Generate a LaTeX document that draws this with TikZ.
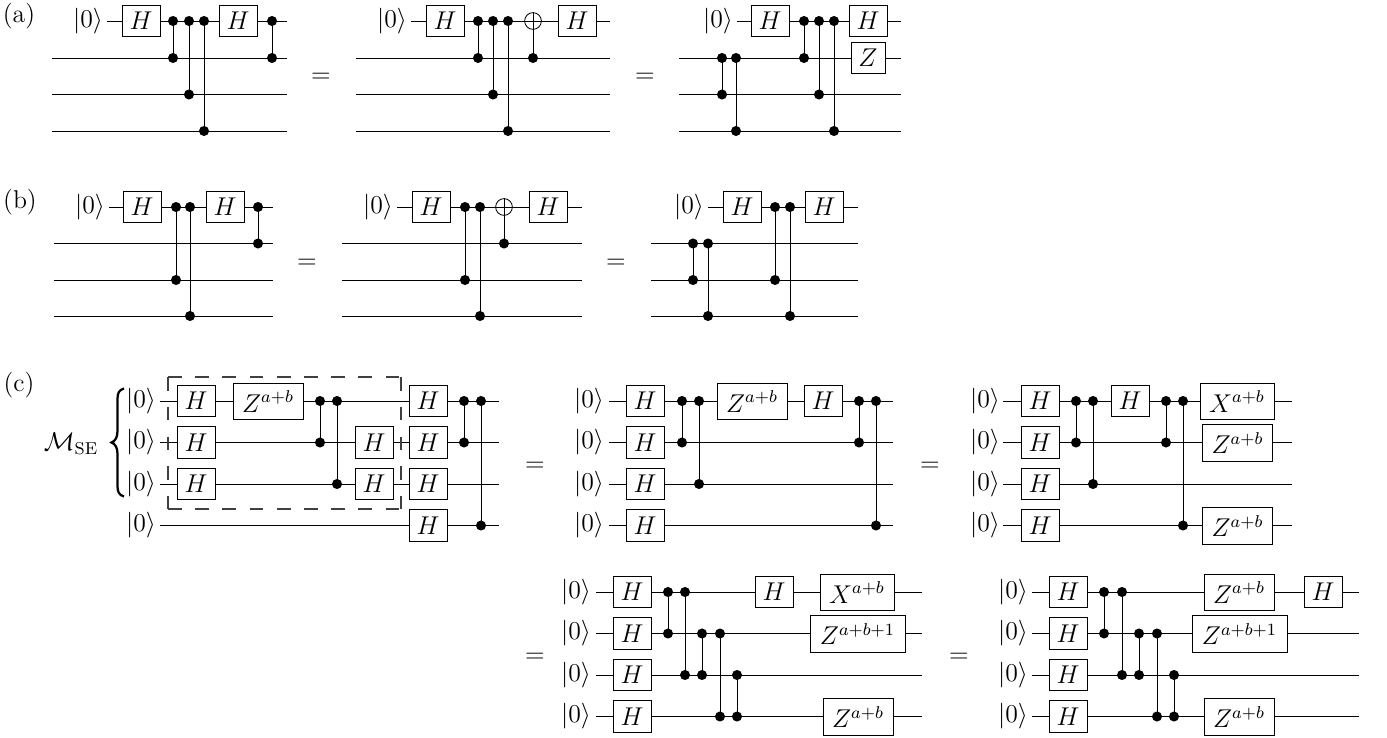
\documentclass[12pt,tikz,border=0pt]{standalone}
\usepackage{amsmath}
\tikzset{
  x=0.4667pt, y=-0.4667pt,
  qwire/.style={line width=0.4pt, black},
  gatebox/.style={draw, line width=0.4pt, fill=white, inner sep=0pt, minimum height=14.7pt, minimum width=17.7pt},
  hgate/.style={gatebox},
  zbox/.style={gatebox, minimum width=15.9pt},
  widebox/.style={gatebox, minimum height=16.9pt, minimum width=32.7pt},
  xwide/.style={gatebox, minimum height=16.9pt, minimum width=34.5pt},
  ztall/.style={gatebox, minimum height=16.9pt, minimum width=44.4pt},
  ketlabel/.style={inner sep=0pt},
  dotnode/.style={circle, fill=black, draw=none, inner sep=0pt, minimum size=4.7pt},
  xornode/.style={circle, draw, fill=white, line width=0.4pt, inner sep=0pt, minimum size=7.8pt},
  plainlabel/.style={inner sep=0pt},
  dashh/.style={line width=0.65pt, black!75, dash pattern=on 6.4pt off 6.3pt},
  dashv/.style={line width=0.65pt, black!75, dash pattern=on 6.4pt off 7.5pt},
}
\newcommand{\ket}{\ensuremath{|0\rangle}}
\newcommand{\qw}[4]{\coordinate (#1a) at (#3,#2); \coordinate (#1b) at (#4,#2); \draw[qwire] (#1a) -- (#1b);}
\newcommand{\cz}[4]{\node[dotnode] (#1a) at (#2,#3) {}; \node[dotnode] (#1b) at (#2,#4) {}; \draw[qwire] (#1a.center) -- (#1b.center);}
\newcommand{\gate}[5]{\node[#2] (#1) at (#3,#4) {$#5$};}
\newcommand{\kt}[3]{\node[ketlabel] (#1) at (#2,#3) {\ket};}
\begin{document}
\begin{tikzpicture}
\useasboundingbox (0,0) rectangle (1387,738);

% ---------- labels
\node[plainlabel] (la) at (19,16) {(a)};
\node[plainlabel] (lb) at (20,202) {(b)};
\node[plainlabel] (lc) at (19,385) {(c)};

% ---------- (a1)
\qw{aAw}{21}{107}{287}\qw{aAx}{58}{52}{287}\qw{aAy}{94.5}{52}{287}\qw{aAz}{131}{52}{287}
\kt{aAk}{88}{21}
\gate{aAh}{hgate}{141}{21}{H}
\cz{aAc}{173}{21}{58}\cz{aAd}{189}{21}{94.5}\cz{aAe}{204}{21}{131}
\gate{aAi}{hgate}{238}{21}{H}
\cz{aAf}{272}{21}{58}
\node[plainlabel] (eqa1) at (321,78) {$=$};

% ---------- (a2)
\qw{aBw}{21}{411}{610}\qw{aBx}{58}{356}{610}\qw{aBy}{94.5}{356}{610}\qw{aBz}{131}{356}{610}
\kt{aBk}{392}{21}
\gate{aBh}{hgate}{445}{21}{H}
\cz{aBc}{478}{21}{58}\cz{aBd}{493}{21}{94.5}\cz{aBe}{508}{21}{131}
\node[dotnode] (aBt) at (533,58) {};
\node[xornode] (aBo) at (533,21) {};
\draw[qwire] (aBo.west) -- (aBo.east); \draw[qwire] (aBo.north) -- (aBt.center);
\gate{aBi}{hgate}{577}{21}{H}
\node[plainlabel] (eqa2) at (645,78) {$=$};

% ---------- (a3)
\qw{aCw}{21}{737}{901}\qw{aCx}{58}{679}{901}\qw{aCy}{94.5}{679}{901}\qw{aCz}{131}{679}{901}
\kt{aCk}{718}{21}
\gate{aCh}{hgate}{770}{21}{H}
\cz{aCa}{722}{58}{94.5}\cz{aCb}{736}{58}{131}
\cz{aCc}{804}{21}{58}\cz{aCd}{819}{21}{94.5}\cz{aCe}{834}{21}{131}
\gate{aCi}{hgate}{868}{21}{H}
\gate{aCj}{zbox}{868}{58}{Z}

% ---------- (b1)
\qw{bAw}{207}{109}{273}\qw{bAx}{243.5}{54}{273}\qw{bAy}{280}{54}{273}\qw{bAz}{316}{54}{273}
\kt{bAk}{90}{207}
\gate{bAh}{hgate}{142}{207}{H}
\cz{bAc}{176}{207}{280}\cz{bAd}{190}{207}{316}
\gate{bAi}{hgate}{225}{207}{H}
\cz{bAf}{258}{207}{243.5}
\node[plainlabel] (eqb1) at (307,264) {$=$};

% ---------- (b2)
\qw{bBw}{207}{397}{582}\qw{bBx}{243.5}{342}{582}\qw{bBy}{280}{342}{582}\qw{bBz}{316}{342}{582}
\kt{bBk}{378}{207}
\gate{bBh}{hgate}{431}{207}{H}
\cz{bBc}{465}{207}{280}\cz{bBd}{480}{207}{316}
\node[dotnode] (bBt) at (504,243.5) {};
\node[xornode] (bBo) at (504,207) {};
\draw[qwire] (bBo.west) -- (bBo.east); \draw[qwire] (bBo.north) -- (bBt.center);
\gate{bBi}{hgate}{548}{207}{H}
\node[plainlabel] (eqb2) at (616,264) {$=$};

% ---------- (b3)
\qw{bCw}{207}{708}{858}\qw{bCx}{243.5}{651}{858}\qw{bCy}{280}{651}{858}\qw{bCz}{316}{651}{858}
\kt{bCk}{689}{207}
\gate{bCh}{hgate}{742}{207}{H}
\cz{bCa}{693}{243.5}{280}\cz{bCb}{708}{243.5}{316}
\cz{bCc}{775}{207}{280}\cz{bCd}{790}{207}{316}
\gate{bCi}{hgate}{824}{207}{H}

% ---------- (c1)
\qw{cAw}{401}{160}{499}\qw{cAx}{442.5}{160}{499}\qw{cAy}{484}{160}{499}\qw{cAz}{525.5}{160}{499}
\kt{cAk}{141}{401}\kt{cAl}{141}{442.5}\kt{cAm}{141}{484}\kt{cAn}{141}{525.5}
\coordinate (dtl) at (168,377); \coordinate (dtr) at (401,377);
\coordinate (dbl) at (168,509); \coordinate (dbr) at (401,509);
\draw[dashh] (dtl) -- (dtr);
\draw[dashh] (dbl) -- (dbr);
\draw[dashv] (dtl) -- (dbl);
\draw[dashv] (dtr) -- (dbr);
\gate{cAh}{hgate}{196}{401}{H}\gate{cAi}{hgate}{196}{442.5}{H}\gate{cAj}{hgate}{196}{484}{H}
\gate{cAZ}{widebox}{268}{401.5}{Z^{a+b}}
\cz{cAc}{320}{401}{442.5}\cz{cAd}{337}{401}{484}
\gate{cAo}{hgate}{374}{442.5}{H}\gate{cAp}{hgate}{374}{484}{H}
\gate{cAq}{hgate}{428}{401}{H}\gate{cAr}{hgate}{428}{442.5}{H}\gate{cAs}{hgate}{428}{484}{H}\gate{cAt}{hgate}{428}{525.5}{H}
\cz{cAe}{464}{401}{442.5}\cz{cAf}{481}{401}{525.5}
\node[plainlabel] (mse) at (71,444) {$\mathcal{M}_{\mathrm{SE}}$};
\draw[line width=1.05pt] (124,388.5) .. controls (119,390) and (117.5,393) .. (117.5,399)
  -- (117.5,431) .. controls (117.5,437) and (115.5,441) .. (111.5,442.5)
  .. controls (115.5,444) and (117.5,448) .. (117.5,454)
  -- (117.5,486) .. controls (117.5,492) and (119,495) .. (124,496.5);
\node[plainlabel] (eqc1) at (535,467) {$=$};

% ---------- (c2)
\qw{cBw}{401}{609}{893}\qw{cBx}{442.5}{609}{893}\qw{cBy}{484}{609}{893}\qw{cBz}{525.5}{609}{893}
\kt{cBk}{589}{401}\kt{cBl}{589}{442.5}\kt{cBm}{589}{484}\kt{cBn}{589}{525.5}
\gate{cBh}{hgate}{645}{401}{H}\gate{cBi}{hgate}{645}{442.5}{H}\gate{cBj}{hgate}{645}{484}{H}\gate{cBo}{hgate}{645}{525.5}{H}
\cz{cBc}{682}{401}{442.5}\cz{cBd}{699}{401}{484}
\gate{cBZ}{widebox}{752}{401.5}{Z^{a+b}}
\gate{cBp}{hgate}{823}{401}{H}
\cz{cBe}{859}{401}{442.5}\cz{cBf}{876}{401}{525.5}
\node[plainlabel] (eqc2) at (930,467) {$=$};

% ---------- (c3)
\qw{cCw}{401}{1003}{1292}\qw{cCx}{442.5}{1003}{1292}\qw{cCy}{484}{1003}{1292}\qw{cCz}{525.5}{1003}{1292}
\kt{cCk}{985}{401}\kt{cCl}{985}{442.5}\kt{cCm}{985}{484}\kt{cCn}{985}{525.5}
\gate{cCh}{hgate}{1040}{401}{H}\gate{cCi}{hgate}{1040}{442.5}{H}\gate{cCj}{hgate}{1040}{484}{H}\gate{cCo}{hgate}{1040}{525.5}{H}
\cz{cCc}{1076}{401}{442.5}\cz{cCd}{1093}{401}{484}
\gate{cCp}{hgate}{1130}{401}{H}
\cz{cCe}{1166}{401}{442.5}\cz{cCf}{1183}{401}{525.5}
\gate{cCX}{xwide}{1237}{401.5}{X^{a+b}}
\gate{cCZ}{widebox}{1237.5}{443}{Z^{a+b}}
\gate{cCY}{widebox}{1237.5}{526}{Z^{a+b}}

% ---------- (c4)
\qw{cDw}{592}{596}{922}\qw{cDx}{633.5}{596}{922}\qw{cDy}{675}{596}{922}\qw{cDz}{716.5}{596}{922}
\kt{cDk}{576}{592}\kt{cDl}{576}{633.5}\kt{cDm}{576}{675}\kt{cDn}{576}{716.5}
\gate{cDh}{hgate}{632}{592}{H}\gate{cDi}{hgate}{632}{633.5}{H}\gate{cDj}{hgate}{632}{675}{H}\gate{cDo}{hgate}{632}{716.5}{H}
\cz{cDa}{668}{592}{633.5}\cz{cDb}{685}{592}{675}\cz{cDc}{702}{633.5}{675}\cz{cDd}{720}{633.5}{716.5}\cz{cDe}{737}{675}{716.5}
\gate{cDp}{hgate}{774}{592}{H}
\gate{cDX}{xwide}{857}{592.5}{X^{a+b}}
\gate{cDZ}{ztall}{857.5}{634}{Z^{a+b+1}}
\gate{cDY}{widebox}{858}{717}{Z^{a+b}}
\node[plainlabel] (eqc3) at (535,658) {$=$};

% ---------- (c5)
\qw{cEw}{592}{1032}{1359}\qw{cEx}{633.5}{1032}{1359}\qw{cEy}{675}{1032}{1359}\qw{cEz}{716.5}{1032}{1359}
\kt{cEk}{1013}{592}\kt{cEl}{1013}{633.5}\kt{cEm}{1013}{675}\kt{cEn}{1013}{716.5}
\gate{cEh}{hgate}{1068}{592}{H}\gate{cEi}{hgate}{1068}{633.5}{H}\gate{cEj}{hgate}{1068}{675}{H}\gate{cEo}{hgate}{1068}{716.5}{H}
\cz{cEa}{1104}{592}{633.5}\cz{cEb}{1122}{592}{675}\cz{cEc}{1139}{633.5}{675}\cz{cEd}{1157}{633.5}{716.5}\cz{cEe}{1174}{675}{716.5}
\gate{cEZ}{widebox}{1239}{592.5}{Z^{a+b}}
\gate{cEp}{hgate}{1323}{592}{H}
\gate{cEY}{ztall}{1239.5}{634}{Z^{a+b+1}}
\gate{cEX}{widebox}{1239}{717}{Z^{a+b}}
\node[plainlabel] (eqc4) at (959,658) {$=$};
\end{tikzpicture}
\end{document}
